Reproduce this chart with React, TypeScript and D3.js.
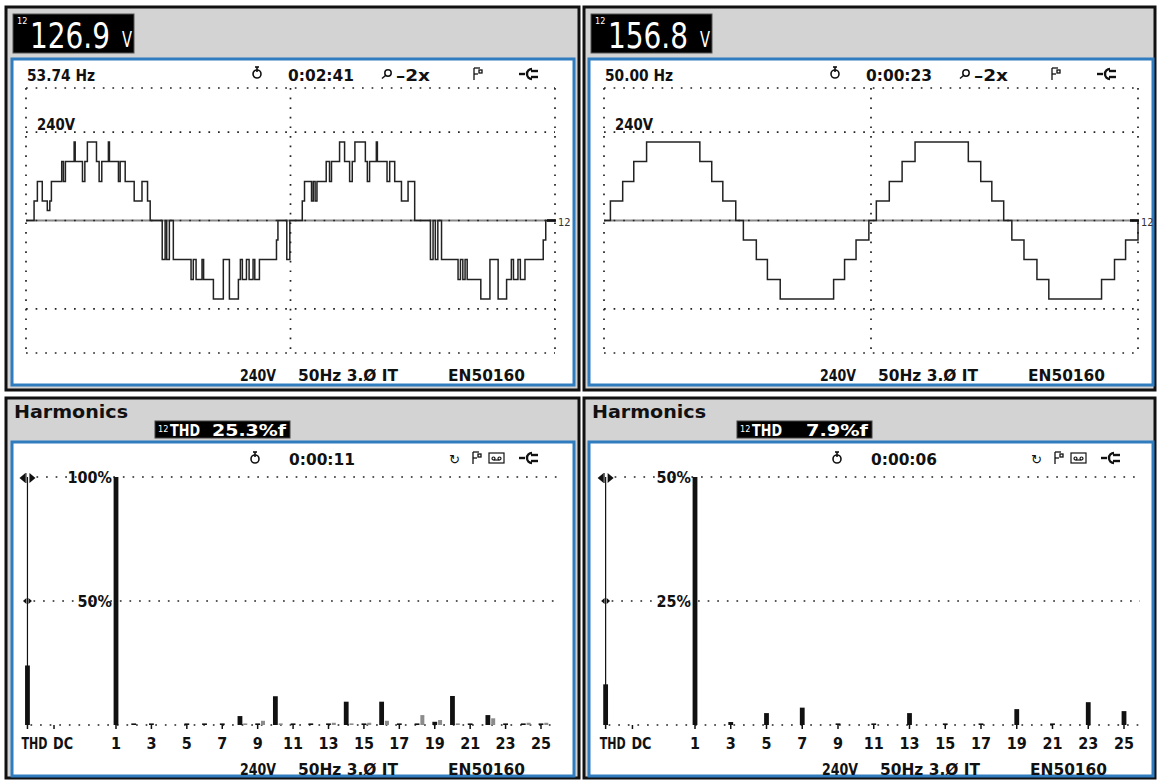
import React from "react";
import * as d3 from "d3";

const FONT = "'Liberation Sans Narrow','DejaVu Sans Condensed','Arial Narrow','Liberation Sans',Arial,sans-serif";

type Pt = [number, number];

// ---------- Scope traces: [time ms, volts] (step-held samples) ----------
const waveLeft: Pt[] = [
  [0, 0], [0.61, 53], [0.86, 106], [1.23, 53], [1.61, 27], [1.8, 53], [1.92, 106],
  [2.7, 160], [2.83, 106], [2.98, 160], [3.64, 213], [3.72, 160], [4.27, 106], [4.45, 160],
  [4.64, 213], [5.33, 160], [5.53, 106], [5.73, 160], [6.23, 213], [6.31, 160], [6.99, 106],
  [7.12, 160], [7.5, 106], [8.18, 53], [8.77, 106], [9.19, 53], [9.39, 0],
  [10.3, -106], [10.52, 0], [10.64, -106], [10.84, 0], [11.14, -106],
  [12.48, -160], [12.65, -106], [12.86, -160], [13.31, -106], [13.43, -160], [14.17, -213],
  [14.92, -106], [15.38, -213], [16.06, -160], [16.21, -106], [16.36, -160], [16.67, -106],
  [16.87, -160], [17.17, -106], [17.3, -160], [17.65, -106], [18.94, -53], [19.05, 0],
  [19.72, -106], [19.95, 0],
  [20.89, 53], [21.06, 106], [21.59, 53], [21.72, 106], [21.86, 53], [22.0, 106], [22.7, 160],
  [22.95, 106], [23.1, 160], [23.71, 213], [24.09, 160], [24.47, 106], [24.67, 160], [24.87, 213],
  [25.66, 160], [25.81, 106], [25.98, 160], [26.49, 213], [26.57, 160], [27.3, 106], [27.5, 160],
  [27.88, 106], [28.39, 53], [28.89, 106], [29.39, 0],
  [30.58, -106], [30.78, 0], [30.95, -106], [31.14, 0], [31.42, -106], [32.67, -160], [32.85, -106],
  [33.03, -160], [33.2, -106], [33.36, -160], [34.39, -213], [35.08, -106], [35.7, -213],
  [36.34, -160], [36.7, -106], [36.86, -160], [37.2, -106], [37.38, -160], [37.73, -106],
  [39.11, -53], [39.3, 0], [40, 0],
];

const waveRight: Pt[] = [
  [0, 0], [0.48, 53], [1.4, 106], [2.23, 160], [3.19, 213], [7.18, 160], [8.07, 106], [8.9, 53], [9.87, 0],
  [10.44, -53], [11.41, -106], [12.24, -160], [13.2, -213], [17.2, -160], [18.02, -106], [18.88, -53], [19.84, 0],
  [20.4, 53], [21.37, 106], [22.33, 160], [23.3, 213], [27.29, 160], [28.22, 106], [29.05, 53], [29.94, 0],
  [30.55, -53], [31.46, -106], [32.43, -160], [33.32, -213], [37.27, -160], [38.24, -106], [39.07, -53], [40, 0],
];

const scopeReadouts = ["126.9", "156.8"];
const scopeFreqs = ["53.74 Hz", "50.00 Hz"];
const scopeTimes = ["0:02:41", "0:00:23"];
const voltGridLines = [360, 240, -240, -360];
const timeGridLines = [0, 20, 40];
const scaleLabel = "240V";
const footer = ["240V", "50Hz 3.Ø IT", "EN50160"];

// ---------- Harmonics (% of fundamental), orders 1..25 ----------
const harmonicOrders = [1, 2, 3, 4, 5, 6, 7, 8, 9, 10, 11, 12, 13, 14, 15, 16, 17, 18, 19, 20, 21, 22, 23, 24, 25];
const harmLeftMain = [100, 0.4, 0.3, 0, 0.3, 0.4, 0.3, 3.6, 0.3, 11.6, 0.3, 0.4, 0.3, 9.4, 0.3, 9.4, 0.3, 0.4, 1.3, 11.7, 0.3, 4.0, 0.3, 0.3, 0.3];
const harmLeftGray = [0, 0, 0, 0, 0, 0, 0, 0.4, 1.7, 0.4, 0, 0, 0.9, 0.4, 0.9, 1.7, 0, 4.0, 2.0, 0.4, 0, 2.7, 0, 0.9, 0.9];
const harmRightMain = [100, 0, 0.6, 0, 2.4, 0, 3.5, 0, 0.2, 0, 0.3, 0, 2.4, 0, 0.2, 0, 0.3, 0, 3.2, 0, 0.2, 0, 4.6, 0, 2.8];
const harmRightGray = [0, 0, 0, 0, 0, 0, 0, 0, 0, 0, 0, 0, 0, 0, 0, 0, 0, 0, 0, 0, 0, 0, 0, 0, 0];
const thdReadings = ["25.3%f", "7.9%f"];
const thdBarValues = [24, 8.2];
const dcBarValues = [0, 0];
const harmScaleMax = [100, 50];
const harmGridLabels = [["100%", "50%"], ["50%", "25%"]];
const harmTimes = ["0:00:11", "0:00:06"];
const harmTickLabels = ["1", "3", "5", "7", "9", "11", "13", "15", "17", "19", "21", "23", "25"];
const SLOT_THD = -4;
const SLOT_DC = -2.5;

// ---------- layout ----------
const scopeLayout = [
  { ox: 6, oy: 7, ow: 573, oh: 383, bx: 12, by: 59, bw: 562, bh: 326, px0: 26, px1: 555, py0: 88, py1: 353, hx: 0, fx: 0 },
  { ox: 584, oy: 7, ow: 571, oh: 383, bx: 589, by: 59, bw: 564, bh: 326, px0: 604, px1: 1138, py0: 88, py1: 353, hx: 578, fx: 580 },
];
const harmLayout = [
  { ox: 6, oy: 398, ow: 573, oh: 380, bx: 12, by: 442, bw: 562, bh: 334, h1: 116, h25: 541, top: 477, base: 725, right: 557, hx: 0, fx: 0, boxX: 155, valW: 74 },
  { ox: 584, oy: 398, ow: 571, oh: 380, bx: 589, by: 442, bw: 564, bh: 334, h1: 695, h25: 1124, top: 477, base: 725, right: 1140, hx: 582, fx: 582, boxX: 737, valW: 62 },
];

const INK = "#111";
const BLUE = "#2f7dbf";
const PANEL_GRAY = "#d3d3d3";

function Dots({ x1, y1, x2, y2 }: { x1: number; y1: number; x2: number; y2: number }) {
  return <line x1={x1} y1={y1} x2={x2} y2={y2} stroke="#222" strokeWidth={1.7} strokeDasharray="1.7 7.9" />;
}

function Clock({ x, y }: { x: number; y: number }) {
  return (
    <g stroke={INK} fill="none" strokeWidth={1.6}>
      <circle cx={x} cy={y + 1} r={4} />
      <line x1={x} y1={y - 6} x2={x} y2={y - 1} />
      <line x1={x - 2} y1={y - 6} x2={x + 2} y2={y - 6} />
    </g>
  );
}

function Magnifier({ x, y }: { x: number; y: number }) {
  return (
    <g stroke={INK} fill="none" strokeWidth={1.5}>
      <circle cx={x + 2} cy={y - 1} r={3.2} />
      <line x1={x - 0.5} y1={y + 1.5} x2={x - 4} y2={y + 4.5} />
    </g>
  );
}

function Flag({ x, y }: { x: number; y: number }) {
  return (
    <g stroke={INK} fill="none" strokeWidth={1.3}>
      <line x1={x} y1={y - 6} x2={x} y2={y + 6} />
      <line x1={x} y1={y - 6} x2={x + 6} y2={y - 6} />
      <line x1={x} y1={y} x2={x + 4} y2={y} />
      <rect x={x + 5} y={y - 4} width={3} height={3} />
    </g>
  );
}

function Plug({ x, y }: { x: number; y: number }) {
  return (
    <g stroke={INK} fill="none" strokeWidth={2.4}>
      <line x1={x} y1={y} x2={x + 6} y2={y} />
      <path d={`M${x + 13},${y - 5} A5,5 0 0 0 ${x + 13},${y + 5}`} />
      <line x1={x + 12} y1={y - 3} x2={x + 19} y2={y - 3} />
      <line x1={x + 12} y1={y + 3} x2={x + 19} y2={y + 3} />
    </g>
  );
}

function Cassette({ x, y }: { x: number; y: number }) {
  return (
    <g stroke={INK} fill="none" strokeWidth={1.2}>
      <rect x={x} y={y - 5} width={15} height={10} />
      <circle cx={x + 4.5} cy={y + 0.5} r={1.5} />
      <circle cx={x + 10.5} cy={y + 0.5} r={1.5} />
      <line x1={x + 4.5} y1={y + 2} x2={x + 10.5} y2={y + 2} />
    </g>
  );
}

function Txt(props: any) {
  const { children, size = 15, weight = 700, fill = INK, ...rest } = props;
  return (
    <text fontFamily={FONT} fontSize={size} fontWeight={weight} fill={fill} {...rest}>
      {children}
    </text>
  );
}

function ScopePanel({ i, wave }: { i: number; wave: Pt[] }) {
  const L = scopeLayout[i];
  const x = d3.scaleLinear().domain([0, 40]).range([L.px0, L.px1]);
  const y = d3.scaleLinear().domain([-360, 360]).range([L.py1, L.py0]);
  const line = d3
    .line<Pt>()
    .x((d) => x(d[0]))
    .y((d) => y(d[1]))
    .curve(d3.curveStepAfter);
  const hx = L.hx;
  const fx = L.fx;
  const rb = L.ox + 7;
  return (
    <g>
      <rect x={L.ox} y={L.oy} width={L.ow} height={L.oh} fill={PANEL_GRAY} stroke={INK} strokeWidth={3} />
      <rect x={rb} y={14} width={121} height={39} fill="#000" stroke="#555" strokeWidth={1} />
      <Txt x={rb + 4} y={24} size={9} weight={400} fill="#fff">12</Txt>
      <Txt x={rb + 17} y={48} size={36} weight={400} fill="#fff" textLength={80} lengthAdjust="spacingAndGlyphs">
        {scopeReadouts[i]}
      </Txt>
      <Txt x={rb + 109} y={47} size={22} weight={400} fill="#fff" textLength={10} lengthAdjust="spacingAndGlyphs">V</Txt>
      <rect x={L.bx} y={L.by} width={L.bw} height={L.bh} fill="#fff" stroke={BLUE} strokeWidth={3} />

      <Txt x={27 + hx} y={81} size={16} textLength={68} lengthAdjust="spacingAndGlyphs">{scopeFreqs[i]}</Txt>
      <Clock x={257 + hx} y={73} />
      <Txt x={288 + hx} y={81} size={16} textLength={66} lengthAdjust="spacingAndGlyphs">{scopeTimes[i]}</Txt>
      <Magnifier x={386 + hx} y={74} />
      <Txt x={396 + hx} y={81} size={16} textLength={34} lengthAdjust="spacingAndGlyphs">–2x</Txt>
      <Flag x={474 + hx} y={74} />
      <Plug x={519 + hx} y={74} />

      {voltGridLines.map((v) => (
        <Dots key={"h" + v} x1={L.px0} y1={y(v)} x2={L.px1} y2={y(v)} />
      ))}
      {timeGridLines.map((t) => (
        <Dots key={"v" + t} x1={x(t)} y1={L.py0} x2={x(t)} y2={L.py1} />
      ))}
      <line x1={L.px0} y1={y(0)} x2={L.px1} y2={y(0)} stroke="#8a8a8a" strokeWidth={2} />
      <Dots x1={L.px0} y1={y(0)} x2={L.px1} y2={y(0)} />
      <Txt x={L.px0 + 11} y={130} size={15} textLength={38} lengthAdjust="spacingAndGlyphs">{scaleLabel}</Txt>

      <path d={line(wave) || ""} fill="none" stroke="#222" strokeWidth={1.5} strokeLinejoin="miter" />
      <line x1={L.px1 - 8} y1={y(0)} x2={L.px1 + 1} y2={y(0)} stroke={INK} strokeWidth={2.6} />
      <Txt x={L.px1 + 3} y={y(0) + 5} size={11} weight={400} fill="#333">12</Txt>

      <Txt x={240 + fx} y={381} size={16} textLength={36} lengthAdjust="spacingAndGlyphs">{footer[0]}</Txt>
      <Txt x={298 + fx} y={381} size={16} textLength={100} lengthAdjust="spacingAndGlyphs">{footer[1]}</Txt>
      <Txt x={448 + fx} y={381} size={16} textLength={77} lengthAdjust="spacingAndGlyphs">{footer[2]}</Txt>
    </g>
  );
}

function HarmPanel({ i, main, gray }: { i: number; main: number[]; gray: number[] }) {
  const L = harmLayout[i];
  const x = d3.scaleLinear().domain([1, 25]).range([L.h1, L.h25]);
  const y = d3.scaleLinear().domain([0, harmScaleMax[i]]).range([L.base, L.top]).clamp(true);
  const slot = x(2) - x(1);
  const barW = 4.8;
  const h = (v: number) => (v <= 0 ? 0 : Math.max(1.6, L.base - y(v)));
  const xThd = x(SLOT_THD);
  const xDc = x(SLOT_DC);
  const mid = y(harmScaleMax[i] / 2);
  const hx = L.hx;
  const fx = L.fx;
  const box = { x: L.boxX, y: 421, w: 135, h: 17 };
  return (
    <g>
      <rect x={L.ox} y={L.oy} width={L.ow} height={L.oh} fill={PANEL_GRAY} stroke={INK} strokeWidth={3} />
      <Txt x={L.ox + 8} y={418} size={17} textLength={114} lengthAdjust="spacingAndGlyphs">Harmonics</Txt>
      <rect x={box.x} y={box.y} width={box.w} height={box.h} fill="#000" stroke="#444" strokeWidth={1} />
      <Txt x={box.x + 3} y={box.y + 11} size={9} weight={400} fill="#fff">12</Txt>
      <Txt x={box.x + 15} y={box.y + 15} size={15} fill="#fff" textLength={30} lengthAdjust="spacingAndGlyphs">THD</Txt>
      <Txt x={box.x + box.w - 4} y={box.y + 15} size={15} fill="#fff" textAnchor="end" textLength={L.valW} lengthAdjust="spacingAndGlyphs">
        {thdReadings[i]}
      </Txt>
      <rect x={L.bx} y={L.by} width={L.bw} height={L.bh} fill="#fff" stroke={BLUE} strokeWidth={3} />

      <Clock x={255 + hx} y={458} />
      <Txt x={289 + hx} y={465} size={16} textLength={66} lengthAdjust="spacingAndGlyphs">{harmTimes[i]}</Txt>
      <Txt x={449 + hx} y={464} size={13} weight={400} fontFamily="DejaVu Sans">↻</Txt>
      <Flag x={473 + hx} y={458} />
      <Cassette x={489 + hx} y={458} />
      <Plug x={519 + hx} y={458} />

      {/* gridlines */}
      <Dots x1={xThd + 9} y1={L.top} x2={L.right} y2={L.top} />
      <Dots x1={xThd + 6} y1={mid} x2={L.right} y2={mid} />
      <Dots x1={xThd + 3} y1={L.base} x2={L.right} y2={L.base} />
      <Txt x={x(1) - 4} y={L.top + 6} size={16} textAnchor="end">{harmGridLabels[i][0]}</Txt>
      <Txt x={x(1) - 4} y={mid + 6} size={16} textAnchor="end">{harmGridLabels[i][1]}</Txt>

      {/* THD cursor and bar */}
      <line x1={xThd} y1={L.top} x2={xThd} y2={L.base} stroke={INK} strokeWidth={1.2} />
      <path d={`M${xThd - 2},${L.top - 4} L${xThd - 8},${L.top + 1} L${xThd - 2},${L.top + 6} Z`} fill={INK} />
      <path d={`M${xThd + 2},${L.top - 4} L${xThd + 8},${L.top + 1} L${xThd + 2},${L.top + 6} Z`} fill={INK} />
      <line x1={xThd - 1.5} y1={L.top - 4} x2={xThd - 1.5} y2={L.top + 6} stroke={INK} strokeWidth={1} />
      <path d={`M${xThd - 1},${mid - 3} L${xThd - 4.5},${mid} L${xThd - 1},${mid + 3} Z`} fill={INK} />
      <path d={`M${xThd + 1},${mid - 3} L${xThd + 4.5},${mid} L${xThd + 1},${mid + 3} Z`} fill={INK} />
      <rect x={xThd - barW / 2} y={L.base - h(thdBarValues[i])} width={barW} height={h(thdBarValues[i])} fill={INK} />
      {dcBarValues[i] > 0 && (
        <rect x={xDc - barW / 2} y={L.base - h(dcBarValues[i])} width={barW} height={h(dcBarValues[i])} fill={INK} />
      )}

      {/* harmonic bars */}
      {harmonicOrders.map((n, k) => (
        <g key={n}>
          {main[k] > 0 && (
            <rect x={x(n) - barW / 2} y={L.base - h(main[k])} width={barW} height={h(main[k])} fill={INK} />
          )}
          {gray[k] > 0 && (
            <rect x={x(n) + slot * 0.3 - 2} y={L.base - h(gray[k])} width={4} height={h(gray[k])} fill="#8c8c8c" />
          )}
        </g>
      ))}

      {/* ticks */}
      {[SLOT_THD, SLOT_DC, ...harmTickLabels.map(Number)].map((n) => (
        <line key={"t" + n} x1={x(n)} y1={L.base} x2={x(n)} y2={L.base + 4} stroke={INK} strokeWidth={1.5} />
      ))}
      <Txt x={xThd - 6} y={749} size={15} textLength={26} lengthAdjust="spacingAndGlyphs">THD</Txt>
      <Txt x={xDc - 1} y={749} size={15} textLength={20} lengthAdjust="spacingAndGlyphs">DC</Txt>
      {harmTickLabels.map((t) => (
        <Txt key={"l" + t} x={x(Number(t))} y={749} size={16} textAnchor="middle">{t}</Txt>
      ))}

      <Txt x={240 + fx} y={775} size={16} textLength={36} lengthAdjust="spacingAndGlyphs">{footer[0]}</Txt>
      <Txt x={298 + fx} y={775} size={16} textLength={100} lengthAdjust="spacingAndGlyphs">{footer[1]}</Txt>
      <Txt x={448 + fx} y={775} size={16} textLength={77} lengthAdjust="spacingAndGlyphs">{footer[2]}</Txt>
    </g>
  );
}

export default function App() {
  return (
    <svg
      width={1157}
      height={780}
      viewBox="0 0 1157 780"
      style={{ position: "absolute", left: 0, top: 0, background: "#fff" }}
    >
      <rect x={0} y={0} width={1157} height={780} fill="#fff" />
      <ScopePanel i={0} wave={waveLeft} />
      <ScopePanel i={1} wave={waveRight} />
      <HarmPanel i={0} main={harmLeftMain} gray={harmLeftGray} />
      <HarmPanel i={1} main={harmRightMain} gray={harmRightGray} />
    </svg>
  );
}
